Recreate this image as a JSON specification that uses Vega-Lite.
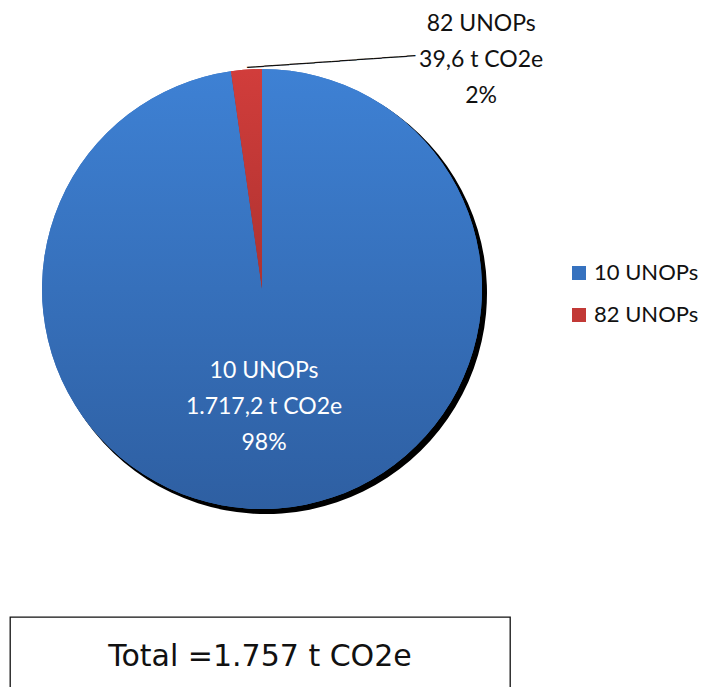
{
  "$schema": "https://vega.github.io/schema/vega-lite/v6.json",
  "padding": {"left": 9, "top": 0, "right": 0, "bottom": 0},
  "background": "white",
  "config": {"view": {"stroke": null}, "concat": {"spacing": 38}, "font": "Lato"},
  "datasets": {
    "pie": [
      {"name": "10 UNOPs", "value": 1717.2, "label": "10 UNOPs\n1.717,2 t CO2e\n98%"},
      {"name": "82 UNOPs", "value": 39.6, "label": "82 UNOPs\n39,6 t CO2e\n2%"}
    ]
  },
  "vconcat": [
    {
      "width": 504,
      "height": 578,
      "data": {"name": "pie"},
      "layer": [
        {
          "mark": {"type": "arc", "outerRadius": 221, "color": "black", "xOffset": 4, "yOffset": 4},
          "encoding": {
            "theta": {"field": "value", "type": "quantitative", "stack": true},
            "detail": {"field": "name"}
          }
        },
        {
          "mark": {"type": "arc", "outerRadius": 220},
          "encoding": {
            "theta": {"field": "value", "type": "quantitative", "stack": true},
            "color": {
              "field": "name",
              "type": "nominal",
              "scale": {"domain": ["10 UNOPs", "82 UNOPs"], "range": ["#3672BF", "#C23936"]},
              "legend": {
                "orient": "none",
                "legendX": 558,
                "legendY": 262,
                "title": null,
                "symbolType": "square",
                "symbolSize": 196,
                "symbolStrokeWidth": 0,
                "labelFont": "Lato",
                "labelFontSize": 22,
                "labelColor": "#111111",
                "labelOffset": 4,
                "rowPadding": 20
              }
            }
          }
        },
        {
          "mark": {"type": "arc", "outerRadius": 220},
          "encoding": {
            "theta": {"field": "value", "type": "quantitative", "stack": true},
            "detail": {"field": "name"},
            "fill": {
              "condition": {"test": "datum.name === '10 UNOPs'", "value": {"gradient": "linear", "x1": 0, "y1": 0, "x2": 0, "y2": 1, "stops": [{"offset": 0, "color": "#3E81D4"}, {"offset": 1, "color": "#2E5FA2"}]}},
              "value": {"gradient": "linear", "x1": 0, "y1": 0, "x2": 0, "y2": 1, "stops": [{"offset": 0, "color": "#D13D3B"}, {"offset": 1, "color": "#AE3230"}]}
            }
          }
        },
        {
          "mark": {"type": "text", "radius": 82, "thetaOffset": 0.046, "fontSize": 23, "font": "Lato", "lineBreak": "\n", "lineHeight": 36, "color": "white", "align": "center", "baseline": "middle"},
          "encoding": {
            "theta": {"field": "value", "type": "quantitative", "stack": true},
            "detail": {"field": "name"},
            "text": {"condition": {"test": "datum.name === '10 UNOPs'", "field": "label"}, "value": ""}
          }
        },
        {
          "mark": {"type": "text", "radius": 344, "thetaOffset": 0.7615, "fontSize": 23, "font": "Lato", "lineBreak": "\n", "lineHeight": 36, "color": "#111111", "align": "center", "baseline": "middle"},
          "encoding": {
            "theta": {"field": "value", "type": "quantitative", "stack": true},
            "detail": {"field": "name"},
            "text": {"condition": {"test": "datum.name === '82 UNOPs'", "field": "label"}, "value": ""}
          }
        },
        {
          "mark": {"type": "text", "radius": 237, "thetaOffset": 0.368, "fontSize": 14, "font": "DejaVu Sans", "angle": 356, "color": "#111111", "align": "center", "baseline": "middle"},
          "encoding": {
            "theta": {"field": "value", "type": "quantitative", "stack": true},
            "detail": {"field": "name"},
            "text": {"condition": {"test": "datum.name === '82 UNOPs'", "value": "────────────────────"}, "value": ""}
          }
        }
      ]
    },
    {
      "width": 500,
      "height": 80,
      "view": {"stroke": "#111111", "strokeWidth": 1.3},
      "data": {"values": [{"total": "Total =1.757 t CO2e"}]},
      "mark": {"type": "text", "fontSize": 30, "font": "DejaVu Sans", "color": "#111111", "align": "center", "baseline": "middle"},
      "encoding": {"text": {"field": "total"}}
    }
  ]
}
